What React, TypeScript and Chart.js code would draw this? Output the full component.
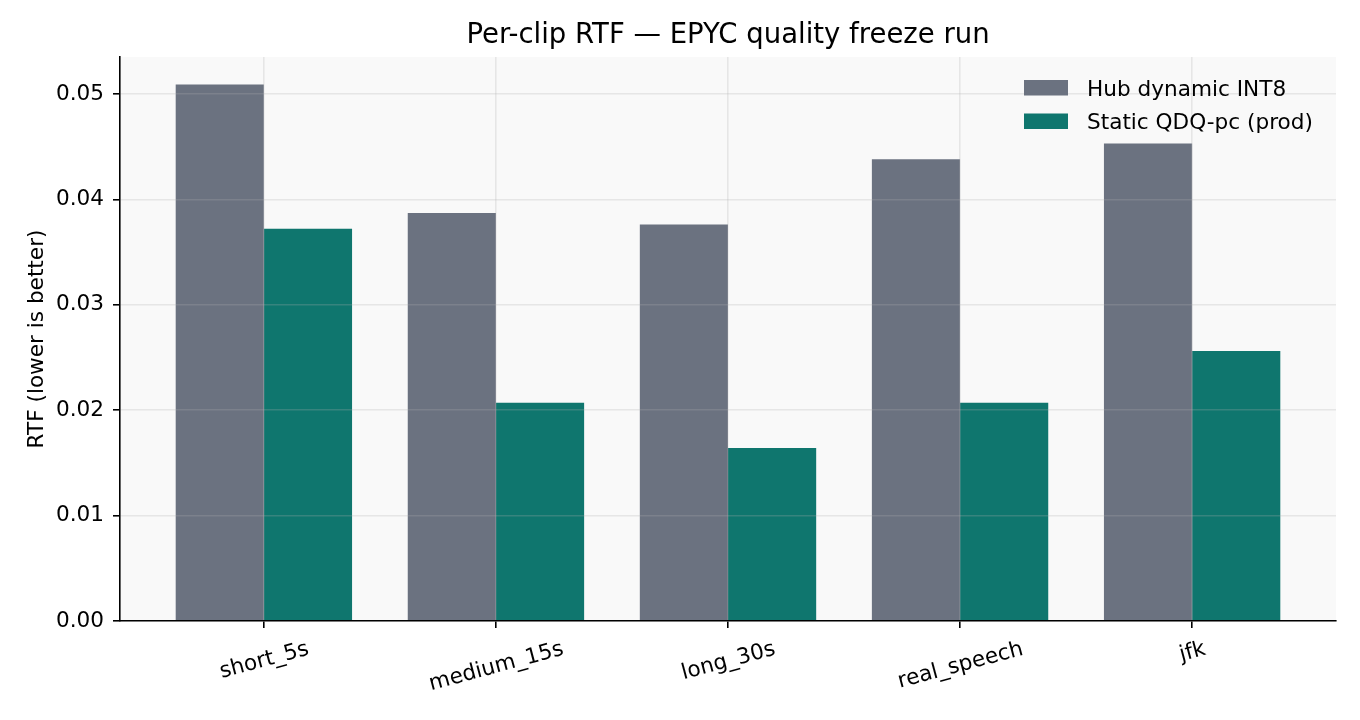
import { useEffect, useRef } from 'react';
import { Chart, registerables } from 'chart.js';

Chart.register(...registerables);

const categories = ['short_5s', 'medium_15s', 'long_30s', 'real_speech', 'jfk'];
const seriesNames = ['Hub dynamic INT8', 'Static QDQ-pc (prod)'];
const hubValues = [0.0509, 0.0387, 0.0376, 0.0438, 0.0453];
const staticValues = [0.0372, 0.0207, 0.0164, 0.0207, 0.0256];
const yTicks = [0, 0.01, 0.02, 0.03, 0.04, 0.05];
const titleText = 'Per-clip RTF — EPYC quality freeze run';
const yLabel = 'RTF (lower is better)';

const FONT = "'DejaVu Sans', 'Noto Sans', sans-serif";
const FS = 21.6;
const COLORS = ['#6b7280', '#0f766e'];
const GRID = 'rgba(176,176,176,0.25)';

export default function App() {
  const ref = useRef<HTMLCanvasElement>(null);

  useEffect(() => {
    const canvas = ref.current!;
    const decor = {
      id: 'decor',
      beforeDraw(chart: any) {
        const { ctx, chartArea: a } = chart;
        ctx.save();
        ctx.fillStyle = '#ffffff';
        ctx.fillRect(0, 0, chart.width, chart.height);
        ctx.fillStyle = '#f9f9f9';
        ctx.fillRect(a.left, a.top, a.right - a.left, a.bottom - a.top);
        ctx.restore();
      },
      afterDraw(chart: any) {
        const { ctx, chartArea: a } = chart;
        const xs = chart.scales.x;
        ctx.save();
        ctx.fillStyle = '#000';
        // title
        ctx.font = `27.5px ${FONT}`;
        ctx.textAlign = 'center';
        ctx.textBaseline = 'alphabetic';
        ctx.fillText(titleText, (a.left + a.right) / 2, a.top - 14);
        // y label
        ctx.save();
        ctx.font = `${FS}px ${FONT}`;
        ctx.translate(a.left - 77, (a.top + a.bottom) / 2);
        ctx.rotate(-Math.PI / 2);
        ctx.textAlign = 'center';
        ctx.fillText(yLabel, 0, 0);
        ctx.restore();
        // x tick labels, rotated 15deg, centred
        const fs = FS;
        ctx.font = `${fs}px ${FONT}`;
        const ang = (15 * Math.PI) / 180;
        const h = fs * 1.164;
        categories.forEach((c, i) => {
          const w = ctx.measureText(c).width;
          const H = w * Math.sin(ang) + h * Math.cos(ang);
          const cx = xs.getPixelForValue(i);
          const cy = a.bottom + 14 + H / 2;
          ctx.save();
          ctx.translate(cx, cy);
          ctx.rotate(-ang);
          ctx.textAlign = 'center';
          ctx.textBaseline = 'alphabetic';
          ctx.fillText(c, 0, 0.346 * fs);
          ctx.restore();
        });
        // legend
        const px = a.right - 312;
        const rows = [a.top + 23, a.top + 56.5];
        seriesNames.forEach((n, i) => {
          ctx.fillStyle = COLORS[i];
          ctx.fillRect(px, rows[i], 44, 15.5);
          ctx.fillStyle = '#000';
          ctx.textAlign = 'left';
          ctx.textBaseline = 'alphabetic';
          ctx.fillText(n, px + 63, rows[i] + 15.5);
        });
        ctx.restore();
      },
    };

    const chart = new Chart(canvas, {
      type: 'bar',
      data: {
        datasets: [
          {
            label: seriesNames[0],
            data: hubValues.map((v, i) => ({ x: i, y: v })),
            backgroundColor: COLORS[0],
            borderWidth: 0,
            categoryPercentage: 0.76,
            barPercentage: 1,
          },
          {
            label: seriesNames[1],
            data: staticValues.map((v, i) => ({ x: i, y: v })),
            backgroundColor: COLORS[1],
            borderWidth: 0,
            categoryPercentage: 0.76,
            barPercentage: 1,
          },
        ],
      } as any,
      options: {
        responsive: false,
        animation: false,
        devicePixelRatio: 1,
        layout: { padding: { top: 57, right: 24, left: 0, bottom: 0 } },
        plugins: {
          legend: { display: false },
          title: { display: false },
          tooltip: { enabled: false },
        },
        scales: {
          x: {
            type: 'linear',
            offset: false,
            min: -0.62,
            max: 4.62,
            afterBuildTicks: (s: any) => {
              s.ticks = categories.map((_, i) => ({ value: i }));
            },
            afterFit: (s: any) => {
              s.height = 99;
            },
            ticks: { display: false },
            grid: {
              offset: false,
              z: 1,
              color: GRID,
              lineWidth: 1.6,
              drawTicks: true,
              tickLength: 7,
              tickColor: '#000',
              tickWidth: 1.6,
            },
            border: { display: true, color: '#000', width: 1.6, z: 2 },
          },
          y: {
            min: 0,
            max: 0.0535,
            afterBuildTicks: (s: any) => {
              s.ticks = yTicks.map((v) => ({ value: v }));
            },
            afterFit: (s: any) => {
              s.width = 120;
            },
            ticks: {
              font: { family: FONT, size: FS },
              color: '#000',
              padding: 9,
              callback: (v: any) => Number(v).toFixed(2),
            },
            grid: {
              z: 1,
              color: GRID,
              lineWidth: 1.6,
              drawTicks: true,
              tickLength: 7,
              tickColor: '#000',
              tickWidth: 1.6,
            },
            border: { display: true, color: '#000', width: 1.6, z: 2 },
          },
        },
      } as any,
      plugins: [decor],
    });
    return () => chart.destroy();
  }, []);

  return (
    <div style={{ position: 'absolute', left: 0, top: 0, width: 1360, height: 720, background: '#fff' }}>
      <canvas ref={ref} width={1360} height={720} style={{ display: 'block' }} />
    </div>
  );
}
